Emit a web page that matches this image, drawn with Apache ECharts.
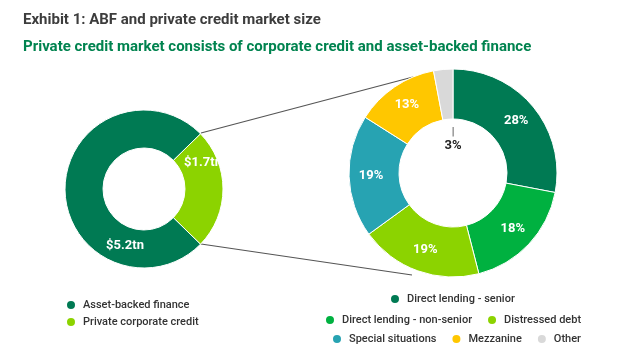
<!DOCTYPE html>
<html><head><meta charset="utf-8">
<script src="https://cdn.jsdelivr.net/npm/echarts@6/dist/echarts.min.js"></script>
<style>html,body{margin:0;padding:0;background:#fff}#c{width:624px;height:361px}</style>
</head><body><div id="c"></div>
<script>
// Left donut: market size ($tn)
const leftNames = ['Private corporate credit', 'Asset-backed finance'];
const leftValues = [1.7, 5.2];
const leftLabels = ['$1.7tn', '$5.2tn'];
// Right donut: private credit composition (%)
const rightNames = ['Direct lending - senior', 'Direct lending - non-senior', 'Distressed debt', 'Special situations', 'Mezzanine', 'Other'];
const rightValues = [28, 18, 19, 19, 13, 3];

const colors = {
  'Asset-backed finance': '#007A53',
  'Private corporate credit': '#8CD300',
  'Direct lending - senior': '#007A53',
  'Direct lending - non-senior': '#00B140',
  'Distressed debt': '#8CD300',
  'Special situations': '#27A3B2',
  'Mezzanine': '#FFC700',
  'Other': '#D9D9D9'
};
const FONT = 'Roboto';
const leftStart = 360 * leftValues[0] / (leftValues[0] + leftValues[1]) / 2;

const chart = echarts.init(document.getElementById('c'), null, {renderer: 'canvas'});
const legendBase = {
  icon: 'circle', itemWidth: 10, itemHeight: 10, itemGap: 14, padding: 0,
  textStyle: {fontFamily: FONT, fontSize: 11, color: '#333', fontWeight: 500, padding: [0, 0, 0, 2]}
};
chart.setOption({
  animation: false,
  title: [
    {text: 'Exhibit 1: ABF and private credit market size', left: 23, top: 13, padding: 0,
     textStyle: {fontFamily: FONT, fontSize: 15, fontWeight: 'bold', color: '#3d3d3d'}},
    {text: 'Private credit market consists of corporate credit and asset-backed finance', left: 23, top: 40, padding: 0,
     textStyle: {fontFamily: FONT, fontSize: 15, fontWeight: 'bold', color: '#00834F'}}
  ],
  legend: [
    Object.assign({}, legendBase, {data: ['Asset-backed finance', 'Private corporate credit'], orient: 'vertical', left: 65, top: 299, itemGap: 5}),
    Object.assign({}, legendBase, {data: [rightNames[0]], top: 293, left: 389}),
    Object.assign({}, legendBase, {data: [rightNames[1], rightNames[2]], top: 314, left: 324}),
    Object.assign({}, legendBase, {data: [rightNames[3], rightNames[4], rightNames[5]], top: 333, left: 331})
  ],
  graphic: [
    {type: 'line', shape: {x1: 201, y1: 133, x2: 413, y2: 77}, style: {stroke: '#555', lineWidth: 1.2}},
    {type: 'line', shape: {x1: 201, y1: 244, x2: 412, y2: 275}, style: {stroke: '#555', lineWidth: 1.2}}
  ],
  series: [
    {
      type: 'pie', center: [144, 189], radius: [41, 79], startAngle: leftStart, clockwise: true,
      itemStyle: {borderColor: '#fff', borderWidth: 1},
      label: {position: 'inside', overflow: 'none', width: 80, fontFamily: FONT, fontSize: 13, fontWeight: 'bold', color: '#fff',
        formatter: p => leftLabels[p.dataIndex]},
      labelLayout: p => p.dataIndex === 0 ? {dx: -4, dy: -26} : {dx: 44, dy: 57},
      data: leftNames.map((n, i) => ({name: n, value: leftValues[i], itemStyle: {color: colors[n]}}))
    },
    {
      type: 'pie', center: [453, 173], radius: [54, 104], startAngle: 90, clockwise: true,
      itemStyle: {borderColor: '#fff', borderWidth: 1},
      label: {position: 'inside', overflow: 'none', fontFamily: FONT, fontSize: 13, fontWeight: 'bold', color: '#fff',
        formatter: p => p.value + '%'},
      data: rightNames.map((n, i) => {
        const d = {name: n, value: rightValues[i], itemStyle: {color: colors[n]}};
        if (n === 'Other') {
          d.label = {position: 'center', color: '#222',
            formatter: p => '{t||}\n' + p.value + '%',
            rich: {t: {fontSize: 11, color: '#444', fontWeight: 'normal', lineHeight: 14}}};
        }
        return d;
      }),
      labelLayout: p => p.dataIndex === 5 ? {dy: -34} : {}
    }
  ]
});
</script></body></html>
